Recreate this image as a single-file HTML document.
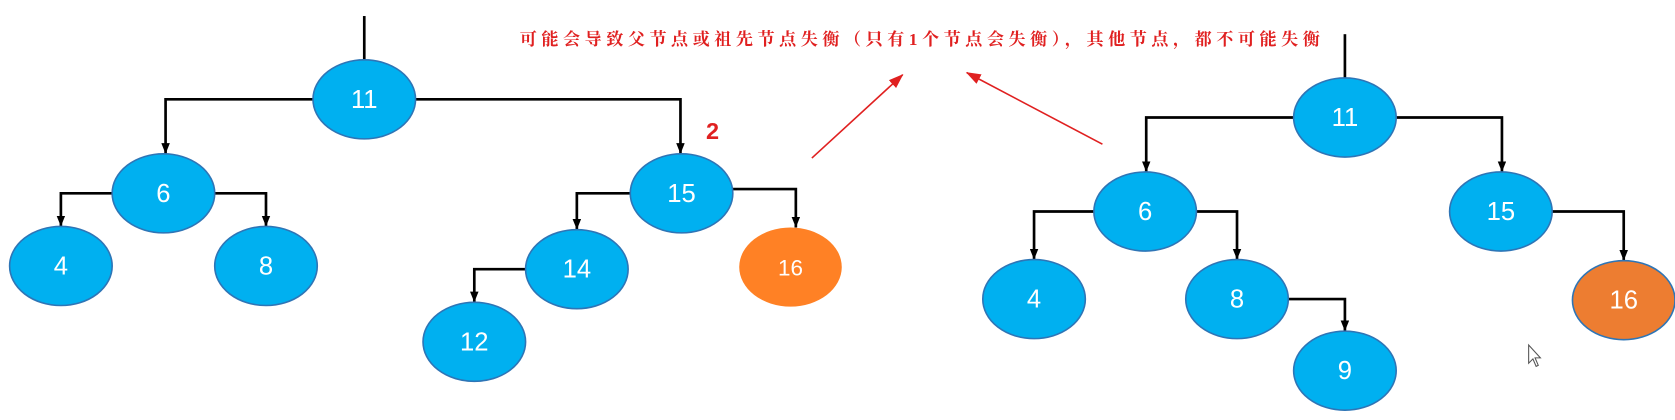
<!DOCTYPE html>
<html><head><meta charset="utf-8"><style>html,body{margin:0;padding:0;background:#fff;overflow:hidden}</style></head><body>
<svg width="1675" height="415" viewBox="0 0 1568 388.5" preserveAspectRatio="none" xmlns="http://www.w3.org/2000/svg">
<defs><marker id="a" markerWidth="10" markerHeight="8" refX="10" refY="4" orient="auto" markerUnits="userSpaceOnUse"><path d="M0,0 L10,4 L0,8 z" fill="#000"/></marker>
<marker id="r" markerWidth="14" markerHeight="10" refX="13" refY="5" orient="auto" markerUnits="userSpaceOnUse"><path d="M0,0 L14,5 L0,10 z" fill="#e02020"/></marker></defs>
<g stroke="#000" stroke-width="2.5" fill="none">
<line x1="341" y1="15" x2="341" y2="60"/>
<polyline points="293,93 155,93 155,144" marker-end="url(#a)"/>
<polyline points="389,93 637,93 637,144" marker-end="url(#a)"/>
<polyline points="106,181 57,181 57,212" marker-end="url(#a)"/>
<polyline points="200,181 249,181 249,212" marker-end="url(#a)"/>
<polyline points="590,181 540,181 540,215" marker-end="url(#a)"/>
<polyline points="686,177 745,177 745,213" marker-end="url(#a)"/>
<polyline points="492,252 444,252 444,283" marker-end="url(#a)"/>
<line x1="1259" y1="32" x2="1259" y2="73"/>
<polyline points="1211,110 1073,110 1073,161" marker-end="url(#a)"/>
<polyline points="1307,110 1406,110 1406,161" marker-end="url(#a)"/>
<polyline points="1024,198 968,198 968,243" marker-end="url(#a)"/>
<polyline points="1120,198 1158,198 1158,243" marker-end="url(#a)"/>
<polyline points="1453,198 1520,198 1520,244" marker-end="url(#a)"/>
<polyline points="1206,280 1259,280 1259,310" marker-end="url(#a)"/>
</g>
<g stroke="#e02020" stroke-width="1.5">
<line x1="760" y1="148" x2="845" y2="70" marker-end="url(#r)"/>
<line x1="1032" y1="135" x2="905" y2="68" marker-end="url(#r)"/>
</g>
<g stroke="#2e75b6" stroke-width="1.5" font-family="Liberation Sans, sans-serif" font-size="24" text-anchor="middle">
<ellipse cx="341" cy="93" rx="48" ry="37" fill="#00b0f0"/>
<ellipse cx="153" cy="181" rx="48" ry="37" fill="#00b0f0"/>
<ellipse cx="638" cy="181" rx="48" ry="37" fill="#00b0f0"/>
<ellipse cx="57" cy="249" rx="48" ry="37" fill="#00b0f0"/>
<ellipse cx="249" cy="249" rx="48" ry="37" fill="#00b0f0"/>
<ellipse cx="540" cy="252" rx="48" ry="37" fill="#00b0f0"/>
<ellipse cx="740" cy="250" rx="48" ry="37" fill="#ff8125" stroke="none"/>
<ellipse cx="444" cy="320" rx="48" ry="37" fill="#00b0f0"/>
<ellipse cx="1259" cy="110" rx="48" ry="37" fill="#00b0f0"/>
<ellipse cx="1072" cy="198" rx="48" ry="37" fill="#00b0f0"/>
<ellipse cx="1405" cy="198" rx="48" ry="37" fill="#00b0f0"/>
<ellipse cx="968" cy="280" rx="48" ry="37" fill="#00b0f0"/>
<ellipse cx="1158" cy="280" rx="48" ry="37" fill="#00b0f0"/>
<ellipse cx="1520" cy="281" rx="48" ry="37" fill="#ed7d31"/>
<ellipse cx="1259" cy="347" rx="48" ry="37" fill="#00b0f0"/>
<g fill="#fff" stroke="none">
<text x="341" y="101">11</text><text x="153" y="189">6</text><text x="638" y="189">15</text>
<text x="57" y="257">4</text><text x="249" y="257">8</text><text x="540" y="260">14</text>
<text x="740" y="258" font-size="21">16</text><text x="444" y="328">12</text>
<text x="1259" y="118">11</text><text x="1072" y="206">6</text><text x="1405" y="206">15</text>
<text x="968" y="288">4</text><text x="1158" y="288">8</text><text x="1520" y="289">16</text><text x="1259" y="355">9</text>
</g></g>
<text x="667" y="130" fill="#e02020" font-family="Liberation Sans, sans-serif" font-size="22" font-weight="bold" text-anchor="middle">2</text>
<text x="861" y="42" fill="#e02020" font-family="Liberation Serif, 'Noto Serif CJK SC', serif" font-size="16" font-weight="bold" text-anchor="middle" textLength="749">可能会导致父节点或祖先节点失衡（只有1个节点会失衡），其他节点，都不可能失衡</text>
<path d="M1431,323 L1431,340 L1435,336 L1438,343 L1440,342 L1437,335 L1442,335 Z" fill="#fff" stroke="#555" stroke-width="1"/>
</svg>
</body></html>
